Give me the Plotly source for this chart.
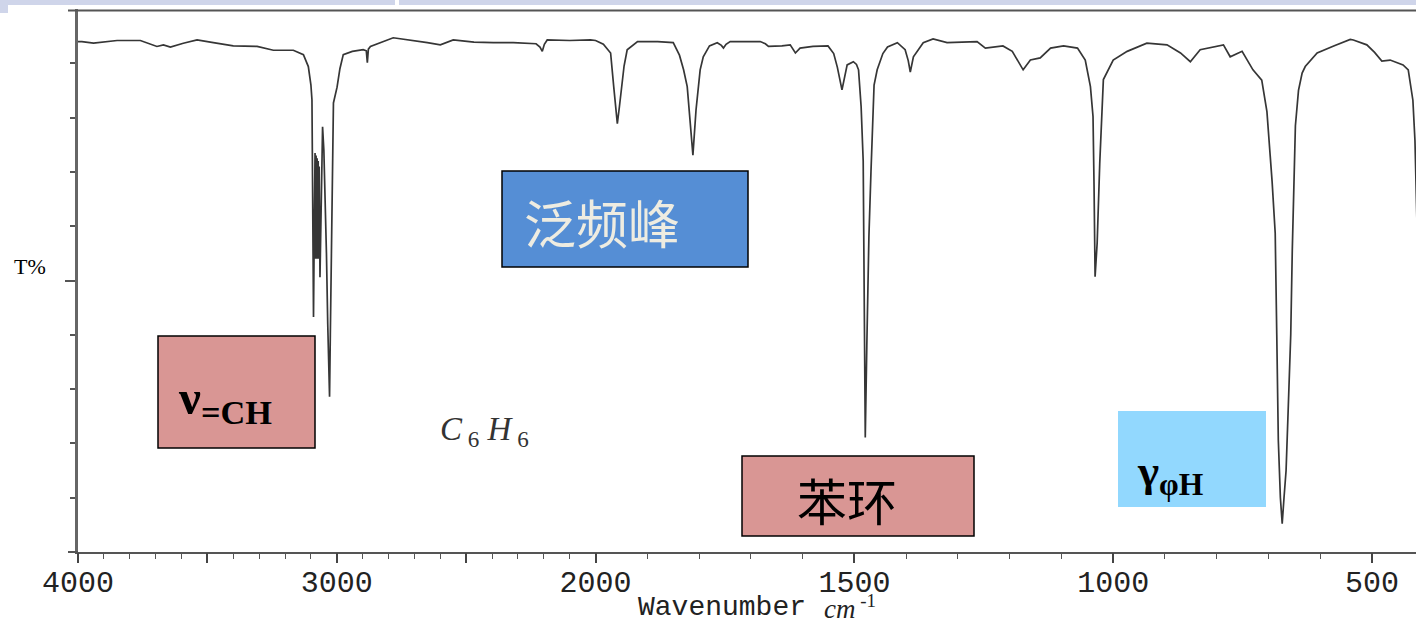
import plotly.graph_objects as go

# ---------------- data (IR spectrum of benzene) ----------------
wavenumber = [
    4000, 3985, 3940, 3880, 3849, 3759, 3733, 3695, 3670, 3643, 3593, 3540, 3477, 3400,
    3308, 3245, 3168, 3129, 3110, 3100, 3096, 3093, 3090, 3087, 3084, 3082, 3080, 3078,
    3076, 3074, 3072, 3070, 3068, 3065, 3061, 3055, 3050, 3045, 3040, 3035, 3031, 3028,
    3025, 3021, 3017, 3013, 2999, 2988, 2975, 2940, 2898, 2886, 2882, 2878, 2870, 2782,
    2650, 2600, 2550, 2470, 2395, 2318, 2230, 2215, 2206, 2198, 2187, 2100, 2020, 2000,
    1985, 1977, 1971, 1965, 1961, 1958, 1954, 1950, 1945, 1939, 1919, 1880, 1850, 1838,
    1830, 1823, 1817, 1812, 1806, 1798, 1792, 1780, 1765, 1757, 1753, 1748, 1740, 1682,
    1672, 1666, 1640, 1624, 1614, 1605, 1580, 1551, 1540, 1533, 1524, 1518, 1514, 1502,
    1496, 1492, 1487, 1483, 1481, 1479, 1476, 1472, 1468, 1465, 1462, 1456, 1445, 1436,
    1417, 1402, 1396, 1392, 1388, 1386, 1367, 1348, 1321, 1270, 1263, 1247, 1213, 1195,
    1184, 1174, 1160, 1141, 1121, 1096, 1069, 1054, 1044, 1039, 1037, 1035, 1031, 1026,
    1019, 1000, 973, 935, 896, 870, 851, 832, 787, 774, 751, 730, 713, 703,
    693, 687, 684, 681, 677, 673.5, 670, 666, 662, 657, 654, 650, 648, 642,
    635, 629, 606, 574, 542, 536, 510, 495, 481, 465, 440, 430, 421, 417, 413,
]
transmittance = [
    94.0, 94.0, 93.7, 94.0, 94.2, 94.2, 93.8, 93.1, 93.4, 93.0, 93.7, 94.3, 93.8, 93.2,
    93.1, 92.4, 92.4, 91.6, 89.4, 86.0, 83.3, 65.0, 43.3, 60.0, 73.5, 54.0, 73.0, 54.0,
    72.5, 54.0, 72.0, 54.0, 71.0, 50.6, 65.0, 78.3, 74.0, 66.0, 55.0, 42.0, 32.0, 28.6,
    40.0, 58.0, 72.0, 82.7, 85.6, 89.0, 91.6, 92.2, 92.5, 92.3, 90.1, 92.6, 93.1, 94.7,
    93.8, 93.4, 94.3, 93.9, 93.8, 93.8, 93.6, 93.0, 92.2, 93.5, 94.3, 94.2, 94.3, 94.2,
    93.5, 92.5, 91.9, 85.7, 82.0, 78.9, 82.0, 85.1, 89.5, 92.5, 94.0, 94.0, 93.8, 91.5,
    88.8, 85.7, 79.6, 73.1, 81.4, 88.8, 91.2, 93.2, 93.8, 93.3, 92.8, 93.5, 94.0, 94.0,
    93.6, 93.1, 93.2, 93.4, 91.9, 92.8, 93.1, 93.2, 91.8, 89.3, 85.1, 88.0, 89.7, 90.3,
    89.8, 88.8, 82.0, 72.0, 50.0, 21.1, 38.0, 58.0, 70.0, 80.0, 86.0, 88.8, 91.8, 93.0,
    93.8, 92.5, 90.5, 88.4, 90.2, 91.2, 93.8, 94.5, 93.8, 94.0, 94.0, 92.8, 93.2, 92.2,
    90.5, 88.8, 90.6, 91.0, 92.8, 93.2, 92.8, 90.6, 85.7, 80.2, 67.3, 50.7, 56.9, 71.6,
    87.0, 90.6, 92.2, 93.7, 93.4, 91.9, 90.3, 92.5, 93.4, 91.2, 92.2, 88.8, 86.9, 81.1,
    68.2, 58.7, 40.0, 20.6, 10.0, 5.2, 10.0, 15.0, 26.0, 40.0, 55.6, 70.0, 78.5, 85.0,
    88.2, 89.4, 91.9, 93.2, 94.4, 94.3, 93.4, 92.0, 90.4, 90.6, 89.7, 88.8, 83.2, 75.8, 60.0,
]

labeled_ticks = [4000, 3000, 2000, 1500, 1000, 500]
labeled_tick_text = ["4000", "3000", "2000", "1500", "1000", "500"]
long_ticks = [4000, 3500, 3000, 2500, 2000, 1500, 1000, 500]
minor_ticks = [4000, 3900, 3800, 3700, 3600, 3500, 3400, 3300, 3200, 3100, 3000, 2900,
               2800, 2700, 2600, 2500, 2400, 2300, 2200, 2100, 2000, 1900, 1800, 1700,
               1600, 1500, 1400, 1300, 1200, 1100, 1000, 900, 800, 700, 600, 500]
y_minor_ticks = [10, 20, 30, 40, 60, 70, 80, 90]
y_major_ticks = [50]
x_end = 415  # wavenumber at right edge of the picture


def axis_pos(w):
    """Classic IR chart scale: 4000-2000 cm-1 is compressed by a factor 2."""
    return (4000 - w) / 2 if w >= 2000 else 1000 + (2000 - w)


# ---------------- layout geometry (pixels of the 1416 x 623 page) ----------------
W, H = 1416, 623
ML, MR, MT, MB = 78, 0, 9, 71
PW, PH = W - ML - MR, H - MT - MB


def px(x):
    return (x - ML) / PW


def py(y):
    return (H - MB - y) / PH


fig = go.Figure()
fig.add_trace(go.Scatter(
    x=[axis_pos(w) for w in wavenumber], y=transmittance, mode="lines",
    line=dict(color="#363636", width=1.7), hoverinfo="skip", showlegend=False,
))
# invisible trace on the overlay axis carrying the long ticks
fig.add_trace(go.Scatter(x=[], y=[], xaxis="x2", showlegend=False, hoverinfo="skip"))

shapes = []
# slide header strip
for x0, x1, y1 in [(0, 395, 5), (399, 1416, 5), (0, 8, 13)]:
    shapes.append(dict(type="rect", xref="paper", yref="paper", x0=px(x0), x1=px(x1),
                       y0=py(y1), y1=py(0), fillcolor="#CFD5EA", line=dict(width=0),
                       layer="below"))
# top frame line and left extension of the bottom axis
shapes.append(dict(type="line", xref="paper", yref="paper", x0=px(68), x1=px(1416),
                   y0=py(10.5), y1=py(10.5), line=dict(color="#555", width=2)))
shapes.append(dict(type="line", xref="paper", yref="paper", x0=px(68), x1=px(78),
                   y0=py(552), y1=py(552), line=dict(color="#555", width=2)))

# label boxes
boxes = [
    (158, 336, 315, 448, "#D99694", "black"),
    (502, 171, 748, 267, "#558ED5", "black"),
    (742, 456, 974, 536, "#D99694", "black"),
    (1118, 411, 1266, 507, "#92D8FE", None),
]
for x0, y0, x1, y1, fc, lc in boxes:
    shapes.append(dict(type="rect", xref="paper", yref="paper", x0=px(x0), x1=px(x1),
                       y0=py(y1), y1=py(y0), fillcolor=fc,
                       line=dict(color=lc or fc, width=1.5 if lc else 0)))

annotations = [
    dict(x=px(176), y=py(400), text="<b>ν<sub>=CH</sub></b>", xanchor="left",
         font=dict(family="Liberation Serif", size=49, color="black")),
    dict(x=px(1135), y=py(474), text="<b>γ<sub>φH</sub></b>", xanchor="left",
         font=dict(family="Liberation Serif", size=45, color="black")),
    dict(x=px(602), y=py(221), text="泛频峰", xanchor="center",
         font=dict(family="Noto Sans CJK SC", size=52, color="#EEECE1")),
    dict(x=px(847), y=py(499), text="苯环", xanchor="center",
         font=dict(family="Noto Sans CJK SC", size=50, color="black")),
    dict(x=px(438), y=py(431), text="<i>C</i><sub> 6</sub> <i>H</i><sub> 6</sub>",
         xanchor="left", font=dict(family="Liberation Serif", size=33, color="#333")),
    dict(x=px(30), y=py(266), text="T%", xanchor="center",
         font=dict(family="Liberation Serif", size=22, color="black")),
    dict(x=px(636), y=py(607), text="Wavenumber", xanchor="left",
         font=dict(family="Liberation Mono", size=28, color="#222")),
    dict(x=px(822), y=py(607), text="<i>cm</i><sup> -1</sup>", xanchor="left",
         font=dict(family="Liberation Serif", size=27, color="#222")),
]
for a in annotations:
    a.update(xref="paper", yref="paper", showarrow=False, yanchor="middle")

xrange = [0, axis_pos(x_end)]
fig.update_layout(
    width=W, height=H, margin=dict(l=ML, r=MR, t=MT, b=MB),
    paper_bgcolor="white", plot_bgcolor="white",
    shapes=shapes, annotations=annotations,
    xaxis=dict(
        range=xrange, tickmode="array",
        tickvals=[axis_pos(w) for w in labeled_ticks], ticktext=labeled_tick_text,
        ticks="outside", ticklen=2, tickwidth=1, tickcolor="rgba(0,0,0,0)",
        tickfont=dict(family="Liberation Mono", size=30, color="#222"),
        showline=True, linecolor="#555", linewidth=2, showgrid=False, zeroline=False,
        minor=dict(tickmode="array", tickvals=[axis_pos(w) for w in minor_ticks],
                   ticks="outside", ticklen=5, tickwidth=1.2, tickcolor="#555"),
    ),
    xaxis2=dict(
        overlaying="x", anchor="y", side="bottom", range=xrange, tickmode="array",
        tickvals=[axis_pos(w) for w in long_ticks], showticklabels=False,
        ticks="outside", ticklen=10, tickwidth=1.5, tickcolor="#444",
        showline=False, showgrid=False, zeroline=False,
    ),
    yaxis=dict(
        range=[0, 100], tickmode="array", tickvals=y_major_ticks, showticklabels=False,
        ticks="outside", ticklen=10, tickwidth=1.5, tickcolor="#555",
        showline=True, linecolor="#666", linewidth=2.5, showgrid=False, zeroline=False,
        minor=dict(tickmode="array", tickvals=y_minor_ticks, ticks="outside",
                   ticklen=5, tickwidth=1.5, tickcolor="#555"),
    ),
)

fig.write_html("out.html", config={"displayModeBar": False},
               post_script="document.body.style.margin='0';document.body.style.overflow='hidden';")
